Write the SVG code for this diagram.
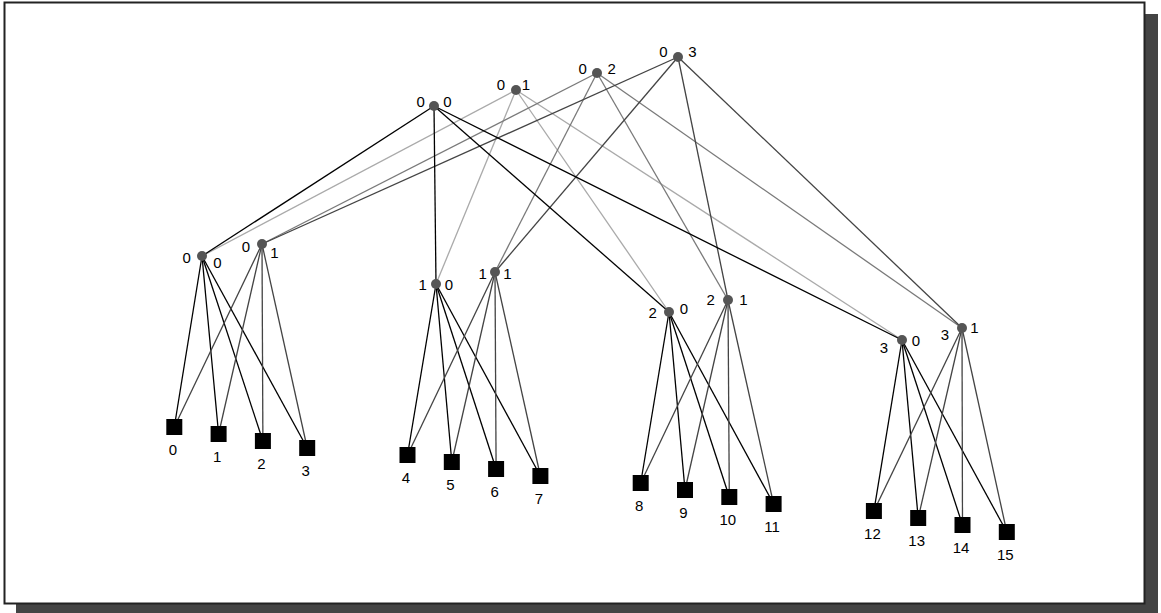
<svg xmlns="http://www.w3.org/2000/svg" width="1161" height="613" viewBox="0 0 1161 613">
<style>
text{font-family:"Liberation Sans",Arial,sans-serif;font-size:15px;fill:#000;text-anchor:middle}
.e0{stroke:#000;stroke-width:1.3;fill:none}
.e1{stroke:#aaa;stroke-width:1.3;fill:none}
.e2{stroke:#7a7a7a;stroke-width:1.3;fill:none}
.e3{stroke:#444;stroke-width:1.3;fill:none}
.dot{fill:#555}
.leaf{fill:#000}
</style>
<rect x="16" y="14" width="1142" height="599" fill="#444"/>
<rect x="4.5" y="2.5" width="1140" height="601" fill="#fff" stroke="#222" stroke-width="2"/>
<g id="connectors">
<line class="e1" x1="516" y1="90" x2="202" y2="256"/>
<line class="e1" x1="516" y1="90" x2="436" y2="284"/>
<line class="e1" x1="516" y1="90" x2="669" y2="312"/>
<line class="e1" x1="516" y1="90" x2="902" y2="340"/>
<line class="e2" x1="597" y1="73" x2="262" y2="244"/>
<line class="e2" x1="597" y1="73" x2="495" y2="272"/>
<line class="e2" x1="597" y1="73" x2="728" y2="300"/>
<line class="e2" x1="597" y1="73" x2="962" y2="328"/>
<line class="e3" x1="678" y1="57" x2="262" y2="244"/>
<line class="e3" x1="678" y1="57" x2="495" y2="272"/>
<line class="e3" x1="678" y1="57" x2="728" y2="300"/>
<line class="e3" x1="678" y1="57" x2="962" y2="328"/>
<line class="e0" x1="434" y1="106" x2="202" y2="256"/>
<line class="e0" x1="434" y1="106" x2="436" y2="284"/>
<line class="e0" x1="434" y1="106" x2="669" y2="312"/>
<line class="e0" x1="434" y1="106" x2="902" y2="340"/>
<line class="e0" x1="202" y1="256" x2="174.3" y2="427"/>
<line class="e0" x1="202" y1="256" x2="218.6" y2="434"/>
<line class="e0" x1="202" y1="256" x2="262.9" y2="441"/>
<line class="e0" x1="202" y1="256" x2="307.2" y2="448"/>
<line class="e3" x1="262" y1="244" x2="174.3" y2="427"/>
<line class="e3" x1="262" y1="244" x2="218.6" y2="434"/>
<line class="e3" x1="262" y1="244" x2="262.9" y2="441"/>
<line class="e3" x1="262" y1="244" x2="307.2" y2="448"/>
<line class="e0" x1="436" y1="284" x2="407.5" y2="455"/>
<line class="e0" x1="436" y1="284" x2="451.8" y2="462"/>
<line class="e0" x1="436" y1="284" x2="496.1" y2="469"/>
<line class="e0" x1="436" y1="284" x2="540.4" y2="476"/>
<line class="e3" x1="495" y1="272" x2="407.5" y2="455"/>
<line class="e3" x1="495" y1="272" x2="451.8" y2="462"/>
<line class="e3" x1="495" y1="272" x2="496.1" y2="469"/>
<line class="e3" x1="495" y1="272" x2="540.4" y2="476"/>
<line class="e0" x1="669" y1="312" x2="640.7" y2="483"/>
<line class="e0" x1="669" y1="312" x2="685" y2="490"/>
<line class="e0" x1="669" y1="312" x2="729.3" y2="497"/>
<line class="e0" x1="669" y1="312" x2="773.6" y2="504"/>
<line class="e3" x1="728" y1="300" x2="640.7" y2="483"/>
<line class="e3" x1="728" y1="300" x2="685" y2="490"/>
<line class="e3" x1="728" y1="300" x2="729.3" y2="497"/>
<line class="e3" x1="728" y1="300" x2="773.6" y2="504"/>
<line class="e0" x1="902" y1="340" x2="873.9" y2="511"/>
<line class="e0" x1="902" y1="340" x2="918.2" y2="518"/>
<line class="e0" x1="902" y1="340" x2="962.5" y2="525"/>
<line class="e0" x1="902" y1="340" x2="1006.8" y2="532"/>
<line class="e3" x1="962" y1="328" x2="873.9" y2="511"/>
<line class="e3" x1="962" y1="328" x2="918.2" y2="518"/>
<line class="e3" x1="962" y1="328" x2="962.5" y2="525"/>
<line class="e3" x1="962" y1="328" x2="1006.8" y2="532"/>
</g>
<g id="t00"><circle class="dot" cx="434" cy="106" r="5"/><text x="420.7" y="106.5">0</text><text x="447.3" y="106.5">0</text></g>
<g id="t01"><circle class="dot" cx="516" cy="90" r="5"/><text x="501" y="90">0</text><text x="526" y="89.5">1</text></g>
<g id="t02"><circle class="dot" cx="597" cy="73" r="5"/><text x="582.7" y="74">0</text><text x="611.7" y="74">2</text></g>
<g id="t03"><circle class="dot" cx="678" cy="57" r="5"/><text x="663.3" y="57.3">0</text><text x="692.3" y="57.3">3</text></g>
<g id="m00"><circle class="dot" cx="202" cy="256" r="5"/><text x="186.7" y="263">0</text><text x="217.3" y="267.5">0</text></g>
<g id="m01"><circle class="dot" cx="262" cy="244" r="5"/><text x="246" y="252.3">0</text><text x="274.3" y="258">1</text></g>
<g id="m10"><circle class="dot" cx="436" cy="284" r="5"/><text x="422.7" y="290">1</text><text x="449" y="290">0</text></g>
<g id="m11"><circle class="dot" cx="495" cy="272" r="5"/><text x="482.7" y="279">1</text><text x="507.3" y="279">1</text></g>
<g id="m20"><circle class="dot" cx="669" cy="312" r="5"/><text x="652.7" y="318">2</text><text x="684" y="314">0</text></g>
<g id="m21"><circle class="dot" cx="728" cy="300" r="5"/><text x="710.7" y="305">2</text><text x="743.3" y="305">1</text></g>
<g id="m30"><circle class="dot" cx="902" cy="340" r="5"/><text x="884" y="352.5">3</text><text x="916" y="345.5">0</text></g>
<g id="m31"><circle class="dot" cx="962" cy="328" r="5"/><text x="945" y="340">3</text><text x="974.3" y="333">1</text></g>
<g id="leaf0"><rect class="leaf" x="166.3" y="419" width="16" height="16"/><text x="172.8" y="455">0</text></g>
<g id="leaf1"><rect class="leaf" x="210.6" y="426" width="16" height="16"/><text x="217.1" y="462">1</text></g>
<g id="leaf2"><rect class="leaf" x="254.9" y="433" width="16" height="16"/><text x="261.4" y="469">2</text></g>
<g id="leaf3"><rect class="leaf" x="299.2" y="440" width="16" height="16"/><text x="305.7" y="476">3</text></g>
<g id="leaf4"><rect class="leaf" x="399.5" y="447" width="16" height="16"/><text x="406" y="483">4</text></g>
<g id="leaf5"><rect class="leaf" x="443.8" y="454" width="16" height="16"/><text x="450.3" y="490">5</text></g>
<g id="leaf6"><rect class="leaf" x="488.1" y="461" width="16" height="16"/><text x="494.6" y="497">6</text></g>
<g id="leaf7"><rect class="leaf" x="532.4" y="468" width="16" height="16"/><text x="538.9" y="504">7</text></g>
<g id="leaf8"><rect class="leaf" x="632.7" y="475" width="16" height="16"/><text x="639.2" y="511">8</text></g>
<g id="leaf9"><rect class="leaf" x="677" y="482" width="16" height="16"/><text x="683.5" y="518">9</text></g>
<g id="leaf10"><rect class="leaf" x="721.3" y="489" width="16" height="16"/><text x="727.8" y="525">10</text></g>
<g id="leaf11"><rect class="leaf" x="765.6" y="496" width="16" height="16"/><text x="772.1" y="532">11</text></g>
<g id="leaf12"><rect class="leaf" x="865.9" y="503" width="16" height="16"/><text x="872.4" y="539">12</text></g>
<g id="leaf13"><rect class="leaf" x="910.2" y="510" width="16" height="16"/><text x="916.7" y="546">13</text></g>
<g id="leaf14"><rect class="leaf" x="954.5" y="517" width="16" height="16"/><text x="961" y="553">14</text></g>
<g id="leaf15"><rect class="leaf" x="998.8" y="524" width="16" height="16"/><text x="1005.3" y="560">15</text></g>
</svg>
